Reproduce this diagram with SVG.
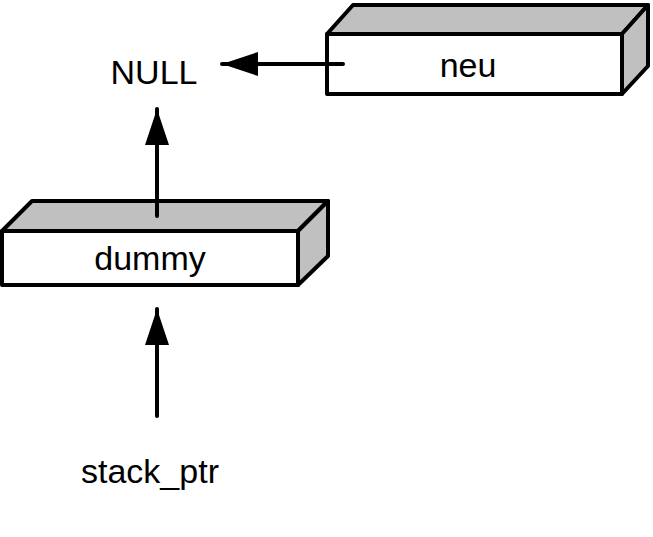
<svg xmlns="http://www.w3.org/2000/svg" width="653" height="537" viewBox="0 0 653 537">
<style>
.front{fill:#fff;stroke:#000;stroke-width:4;stroke-linejoin:round}
.side{fill:#c0c0c0;stroke:#000;stroke-width:4;stroke-linejoin:round}
.lbl{font-family:"Liberation Sans",Arial,sans-serif;font-size:34px;fill:#000;text-anchor:middle}
.conn{stroke:#000;stroke-width:4;stroke-linecap:round;fill:none}
</style>
<defs>
<marker id="ah" markerUnits="userSpaceOnUse" markerWidth="40" markerHeight="26" refX="36" refY="12" orient="auto">
<path d="M0,0 L36,12 L0,24 Z" fill="#000"/>
</marker>
</defs>
<rect width="653" height="537" fill="#fff"/>
<g id="neu">
<polygon class="side" points="327,34 353,5 648,5 622,34"/>
<polygon class="side" points="622,34 648,5 648,66 622,94"/>
<rect class="front" x="327" y="34" width="295" height="60"/>
<text class="lbl" x="468" y="77">neu</text>
</g>
<g id="dummy">
<polygon class="side" points="2,231 32,201 328,201 298,231"/>
<polygon class="side" points="298,231 328,201 328,256 298,285"/>
<rect class="front" x="2" y="231" width="296" height="54"/>
<text class="lbl" x="150" y="270">dummy</text>
</g>
<g id="null">
<text class="lbl" x="154" y="84">NULL</text>
</g>
<g id="stack_ptr">
<text class="lbl" x="150" y="483">stack_ptr</text>
</g>
<g id="connectors">
<line class="conn" x1="343" y1="64" x2="222" y2="64" marker-end="url(#ah)"/>
<line class="conn" x1="157" y1="216" x2="157" y2="109" marker-end="url(#ah)"/>
<line class="conn" x1="157" y1="416" x2="157" y2="309" marker-end="url(#ah)"/>
</g>
</svg>
